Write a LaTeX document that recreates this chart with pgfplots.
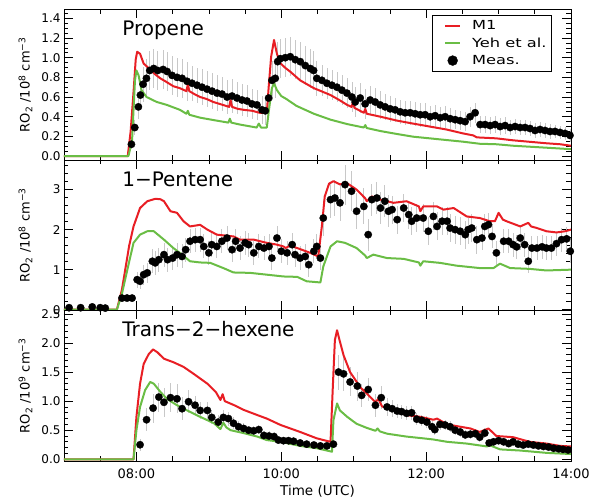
\documentclass[border=0pt]{standalone}
\usepackage{fontspec}
\setmainfont{DejaVu Sans}
\usepackage{pgfplots}
\usepackage{pgfplotstable}
\pgfplotsset{compat=1.18}
\definecolor{mred}{RGB}{232,30,36}
\definecolor{mgreen}{RGB}{106,189,69}
\definecolor{ebar}{RGB}{200,200,200}

\pgfplotstableread{
t v
7.0 0
7.88 0
7.92 0.25
7.96 0.65
7.99 0.98
8.01 1.06
8.05 1.04
8.10 0.94
8.19 0.88
8.26 0.83
8.33 0.79
8.40 0.76
8.51 0.71
8.60 0.69
8.69 0.66
8.71 0.73
8.73 0.66
8.80 0.63
8.88 0.60
8.97 0.58
9.06 0.55
9.15 0.53
9.28 0.50
9.30 0.57
9.32 0.50
9.40 0.48
9.48 0.47
9.60 0.46
9.70 0.44
9.80 0.44
9.83 0.74
9.86 1.01
9.90 1.18
9.94 1.04
9.98 0.95
10.05 0.90
10.12 0.86
10.26 0.77
10.45 0.69
10.55 0.66
10.68 0.62
10.80 0.57
10.91 0.52
10.97 0.50
10.99 0.55
11.01 0.49
11.14 0.44
11.16 0.48
11.18 0.43
11.37 0.40
11.60 0.36
11.82 0.33
12.05 0.30
12.28 0.27
12.51 0.23
12.65 0.21
12.70 0.19
12.97 0.18
13.20 0.16
13.43 0.145
13.66 0.13
13.85 0.12
14.0 0.105
}\redA
\pgfplotstableread{
t v
7.0 0
7.89 0
7.94 0.16
7.96 0.47
7.98 0.77
8.00 0.87
8.03 0.82
8.07 0.67
8.14 0.60
8.28 0.55
8.42 0.52
8.60 0.47
8.69 0.43
8.71 0.46
8.73 0.42
8.88 0.39
9.11 0.36
9.27 0.34
9.29 0.38
9.31 0.34
9.43 0.32
9.66 0.29
9.69 0.33
9.72 0.29
9.80 0.29
9.83 0.47
9.87 0.69
9.90 0.74
9.94 0.67
10.00 0.61
10.07 0.58
10.21 0.51
10.45 0.43
10.68 0.37
10.91 0.325
11.14 0.29
11.16 0.315
11.18 0.285
11.37 0.254
11.60 0.224
11.82 0.197
12.05 0.18
12.28 0.163
12.51 0.146
12.74 0.125
12.97 0.12
13.20 0.105
13.43 0.095
13.66 0.085
14.0 0.07
}\greenA
\pgfplotstableread{
t v e
7.50 -0.045 0.0
7.55 -0.045 0.0
7.60 -0.045 0.0
7.65 -0.045 0.0
7.70 -0.045 0.0
7.75 -0.045 0.0
7.80 -0.045 0.0
7.85 -0.045 0.0
7.931 0.12 0.05
7.977 0.29 0.08
8.027 0.50 0.12
8.055 0.62 0.15
8.092 0.73 0.18
8.138 0.79 0.2
8.184 0.87 0.2
8.239 0.89 0.2
8.294 0.87 0.2
8.368 0.88 0.2
8.423 0.86 0.2
8.492 0.82 0.2
8.561 0.80 0.2
8.630 0.79 0.2
8.699 0.76 0.2
8.768 0.74 0.18
8.837 0.72 0.18
8.906 0.70 0.18
8.975 0.68 0.18
9.044 0.66 0.18
9.113 0.64 0.18
9.182 0.63 0.17
9.251 0.60 0.17
9.320 0.61 0.17
9.388 0.59 0.16
9.457 0.57 0.16
9.526 0.56 0.16
9.595 0.53 0.15
9.664 0.52 0.15
9.733 0.47 0.14
9.779 0.46 0.14
9.825 0.59 0.16
9.871 0.77 0.2
9.917 0.79 0.2
9.950 0.96 0.2
9.986 0.99 0.2
10.055 1.00 0.2
10.124 1.01 0.2
10.193 0.98 0.2
10.262 0.96 0.2
10.331 0.92 0.2
10.400 0.89 0.2
10.446 0.87 0.2
10.491 0.79 0.18
10.561 0.77 0.16
10.630 0.74 0.16
10.699 0.72 0.15
10.768 0.70 0.15
10.837 0.67 0.15
10.906 0.64 0.15
10.975 0.60 0.15
11.021 0.55 0.15
11.090 0.59 0.15
11.158 0.53 0.15
11.227 0.57 0.14
11.296 0.55 0.14
11.365 0.52 0.14
11.434 0.50 0.13
11.503 0.48 0.13
11.572 0.47 0.12
11.641 0.45 0.12
11.710 0.44 0.12
11.779 0.44 0.12
11.848 0.43 0.12
11.917 0.42 0.12
11.986 0.42 0.12
12.055 0.40 0.11
12.124 0.41 0.11
12.193 0.39 0.11
12.262 0.40 0.11
12.331 0.38 0.11
12.400 0.37 0.1
12.469 0.36 0.1
12.538 0.35 0.1
12.607 0.40 0.1
12.676 0.44 0.1
12.745 0.32 0.09
12.814 0.32 0.09
12.883 0.31 0.09
12.952 0.32 0.09
13.021 0.30 0.09
13.090 0.31 0.09
13.159 0.29 0.08
13.228 0.30 0.08
13.297 0.29 0.08
13.366 0.29 0.08
13.434 0.28 0.08
13.503 0.26 0.08
13.572 0.27 0.08
13.641 0.26 0.075
13.710 0.25 0.075
13.779 0.25 0.07
13.848 0.24 0.07
13.917 0.23 0.07
13.986 0.21 0.07
}\measA

\pgfplotstableread{
t v
7.0 0
7.73 0
7.80 0.5
7.90 1.6
7.96 2.08
8.05 2.54
8.15 2.71
8.26 2.77
8.33 2.76
8.38 2.71
8.47 2.46
8.56 2.42
8.65 2.21
8.74 2.08
8.88 2.12
8.98 2.00
9.11 1.875
9.34 1.83
9.43 1.75
9.62 1.75
9.80 1.67
9.94 1.625
10.03 1.58
10.06 1.54
10.12 1.60
10.22 1.54
10.40 1.42
10.51 1.33
10.56 2.08
10.60 2.83
10.66 3.15
10.72 3.21
10.81 3.13
10.90 3.17
11.04 3.00
11.16 2.78
11.18 2.71
11.25 2.83
11.37 2.75
11.55 2.67
11.73 2.71
11.90 2.58
11.92 2.46
11.96 2.58
12.15 2.58
12.24 2.50
12.38 2.54
12.56 2.33
12.74 2.29
12.88 2.21
12.95 2.21
13.00 2.42
13.06 2.25
13.11 2.21
13.30 2.08
13.41 2.17
13.45 2.08
13.53 2.04
13.66 1.96
13.80 1.93
13.92 1.96
14.0 2.0
}\redB
\pgfplotstableread{
t v
7.0 0
7.73 0
7.80 0.4
7.90 1.2
7.96 1.67
8.05 1.875
8.15 1.96
8.24 1.96
8.38 1.75
8.51 1.54
8.63 1.375
8.74 1.21
8.88 1.18
9.02 1.17
9.20 1.04
9.34 0.93
9.57 0.92
9.80 0.875
10.03 0.83
10.22 0.82
10.35 0.71
10.54 0.68
10.58 1.08
10.68 1.58
10.77 1.71
10.88 1.67
11.04 1.54
11.16 1.35
11.18 1.29
11.27 1.375
11.46 1.29
11.69 1.27
11.90 1.18
11.92 1.10
11.96 1.21
12.19 1.17
12.42 1.10
12.74 1.04
12.93 1.04
13.02 1.15
13.16 1.04
13.43 1.02
13.66 0.98
14.0 1.0
}\greenB
\pgfplotstableread{
t v e
7.07 0.05 0.0
7.23 0.05 0.0
7.39 0.07 0.0
7.50 0.05 0.0
7.57 0.04 0.0
7.80 0.29 0.1
7.87 0.29 0.1
7.94 0.29 0.1
8.01 0.75 0.2
8.05 0.71 0.2
8.10 0.875 0.25
8.15 0.92 0.25
8.22 1.21 0.3
8.26 1.17 0.3
8.31 1.25 0.3
8.38 1.375 0.3
8.43 1.25 0.3
8.50 1.29 0.3
8.56 1.375 0.3
8.63 1.33 0.3
8.68 1.50 0.3
8.74 1.71 0.3
8.81 1.75 0.3
8.88 1.75 0.3
8.93 1.58 0.3
9.00 1.42 0.3
9.04 1.625 0.3
9.11 1.58 0.3
9.18 1.71 0.3
9.25 1.79 0.3
9.32 1.50 0.3
9.37 1.71 0.3
9.43 1.54 0.3
9.50 1.67 0.3
9.55 1.625 0.3
9.62 1.42 0.3
9.69 1.58 0.3
9.76 1.54 0.3
9.83 1.58 0.3
9.87 1.29 0.3
9.94 1.79 0.3
10.00 1.46 0.3
10.08 1.42 0.3
10.15 1.625 0.3
10.19 1.375 0.3
10.26 1.29 0.3
10.33 1.33 0.3
10.38 1.125 0.3
10.45 1.46 0.3
10.49 1.58 0.3
10.54 1.29 0.3
10.58 2.29 0.45
10.68 2.75 0.45
10.74 2.79 0.45
10.81 2.67 0.45
10.88 3.125 0.5
10.97 2.96 0.5
11.04 2.46 0.45
11.14 2.58 0.45
11.20 1.875 0.4
11.25 2.75 0.4
11.32 2.79 0.4
11.37 2.54 0.4
11.43 2.71 0.4
11.48 2.46 0.4
11.53 2.50 0.35
11.60 2.25 0.35
11.69 2.54 0.35
11.76 2.375 0.35
11.80 2.21 0.35
11.87 2.29 0.35
11.96 2.29 0.35
12.03 1.96 0.35
12.10 2.33 0.35
12.15 2.08 0.35
12.22 2.21 0.35
12.29 2.21 0.35
12.33 2.04 0.35
12.40 2.00 0.35
12.47 1.96 0.35
12.54 1.875 0.35
12.58 2.00 0.35
12.63 2.04 0.35
12.70 1.75 0.35
12.77 1.79 0.3
12.81 2.08 0.3
12.86 2.125 0.3
12.91 1.83 0.3
12.97 1.42 0.3
13.07 1.71 0.3
13.14 1.71 0.3
13.20 1.625 0.3
13.25 1.57 0.3
13.30 1.79 0.3
13.36 1.625 0.3
13.41 1.21 0.3
13.46 1.54 0.3
13.53 1.54 0.3
13.60 1.57 0.3
13.66 1.54 0.3
13.73 1.54 0.3
13.80 1.65 0.3
13.87 1.75 0.3
13.94 1.77 0.3
13.99 1.46 0.3
}\measB

\pgfplotstableread{
t v
7.0 0
7.96 0
8.00 0.73
8.05 1.30
8.10 1.64
8.17 1.81
8.23 1.89
8.29 1.84
8.38 1.73
8.51 1.67
8.65 1.59
8.79 1.47
8.98 1.30
9.10 1.15
9.16 1.02
9.19 1.12
9.22 1.00
9.35 0.93
9.48 0.85
9.67 0.76
9.80 0.70
9.99 0.59
10.26 0.47
10.49 0.36
10.68 0.30
10.71 1.20
10.74 2.05
10.77 2.22
10.80 2.07
10.86 1.79
10.95 1.50
11.09 1.24
11.23 1.07
11.30 0.98
11.34 1.04
11.39 0.91
11.55 0.84
11.73 0.76
11.92 0.73
12.10 0.68
12.15 0.70
12.29 0.60
12.47 0.56
12.61 0.53
12.74 0.47
12.86 0.53
12.97 0.40
13.20 0.38
13.43 0.30
13.66 0.27
13.85 0.23
14.0 0.22
}\redC
\pgfplotstableread{
t v
7.0 0
7.96 0
8.00 0.50
8.05 0.90
8.12 1.19
8.19 1.33
8.24 1.30
8.33 1.16
8.42 1.04
8.56 0.93
8.70 0.84
8.88 0.73
9.07 0.62
9.16 0.52
9.20 0.63
9.24 0.55
9.30 0.50
9.48 0.45
9.67 0.39
9.80 0.33
9.99 0.30
10.26 0.23
10.49 0.19
10.70 0.13
10.72 0.67
10.77 0.96
10.81 0.84
10.91 0.73
11.04 0.61
11.18 0.54
11.30 0.49
11.33 0.53
11.36 0.48
11.46 0.44
11.73 0.39
11.96 0.36
12.10 0.34
12.29 0.30
12.56 0.27
12.84 0.22
12.88 0.24
13.02 0.17
13.30 0.15
13.66 0.11
14.0 0.09
}\greenC
\pgfplotstableread{
t v e
7.07 -0.05 0.0
7.15 -0.05 0.0
7.23 -0.05 0.0
7.32 -0.05 0.0
7.40 -0.05 0.0
7.48 -0.05 0.0
7.57 -0.05 0.0
7.65 -0.05 0.0
7.73 -0.05 0.0
7.82 -0.05 0.0
7.90 -0.05 0.0
8.05 0.25 0.1
8.14 0.68 0.2
8.23 0.88 0.25
8.31 1.07 0.25
8.38 0.98 0.25
8.47 1.06 0.25
8.56 1.04 0.25
8.63 0.87 0.2
8.72 0.99 0.2
8.81 0.93 0.15
8.88 0.84 0.15
8.98 0.84 0.15
9.04 0.72 0.12
9.13 0.64 0.12
9.20 0.72 0.12
9.27 0.70 0.12
9.34 0.62 0.1
9.41 0.56 0.1
9.48 0.53 0.1
9.55 0.50 0.08
9.62 0.49 0.08
9.69 0.51 0.08
9.76 0.41 0.08
9.83 0.40 0.08
9.90 0.39 0.08
9.96 0.33 0.07
10.03 0.32 0.07
10.10 0.32 0.07
10.17 0.31 0.07
10.26 0.28 0.07
10.35 0.26 0.06
10.45 0.245 0.06
10.54 0.23 0.06
10.63 0.23 0.06
10.72 0.26 0.06
10.79 1.50 0.3
10.86 1.47 0.3
10.95 1.33 0.25
11.05 1.26 0.25
11.11 1.10 0.2
11.20 1.20 0.2
11.30 0.93 0.2
11.38 1.06 0.2
11.46 0.90 0.15
11.53 0.87 0.15
11.60 0.83 0.12
11.66 0.82 0.12
11.73 0.79 0.12
11.80 0.80 0.12
11.87 0.69 0.1
11.94 0.67 0.1
12.01 0.64 0.1
12.08 0.56 0.1
12.12 0.51 0.1
12.19 0.60 0.1
12.26 0.59 0.09
12.33 0.56 0.09
12.40 0.50 0.09
12.47 0.47 0.08
12.54 0.42 0.08
12.61 0.43 0.08
12.68 0.44 0.08
12.74 0.38 0.08
12.81 0.45 0.08
12.87 0.28 0.07
12.93 0.30 0.07
13.00 0.32 0.07
13.07 0.30 0.07
13.14 0.27 0.06
13.20 0.30 0.06
13.27 0.26 0.06
13.34 0.245 0.06
13.41 0.26 0.06
13.48 0.245 0.06
13.55 0.23 0.05
13.62 0.22 0.05
13.69 0.21 0.05
13.76 0.19 0.05
13.83 0.18 0.05
13.89 0.17 0.05
13.96 0.16 0.05
}\measC

\pgfplotsset{
  panel/.style={
    scale only axis, width=507pt, height=150.5pt,
    xmin=7, xmax=14,
    xtick={8,10,12,14}, minor xtick={7,7.5,...,14},
    xticklabels={},
    axis line style={line width=0.8pt},
    every tick/.style={black, line width=0.7pt},
    major tick length=9pt, minor tick length=4.5pt,
    tick align=inside,
    /pgf/number format/assume math mode=true,
    yticklabel style={font=\fontsize{12}{12}\selectfont},
    xticklabel style={font=\fontsize{13}{13}\selectfont, yshift=-4pt},
    ylabel style={at={(axis description cs:-0.076,0.5)}, anchor=center, font=\fontsize{13}{13}\selectfont},
    xlabel style={at={(axis description cs:0.5,0)}, anchor=center, yshift=-30.7pt, font=\fontsize{13.5}{13.5}\selectfont},
  },
  model/.style={line width=2pt, no markers, line join=round,
    legend image code/.code={\draw[##1, line width=2pt] (0pt,0pt) -- (15pt,0pt); \path[draw=none,fill=none] (-10pt,0pt) (25pt,0pt);}},
  errs/.style={forget plot, only marks, mark=none,
    error bars/y dir=both, error bars/y explicit, error bars/error mark=none,
    error bars/error bar style={ebar, line width=0.8pt}},
  meas/.style={only marks, mark=*, mark size=3.7pt, black, mark options={fill=black, draw=black, line width=0.3pt},
    legend image code/.code={\draw[##1, only marks, mark size=5pt] plot coordinates {(7.5pt,0pt)}; \path[draw=none,fill=none] (-10pt,0pt) (25pt,0pt);}},
}

\begin{document}
\begin{tikzpicture}
\path[use as bounding box] (-64pt,-39pt) rectangle (525pt,461pt);

% Panel 1
\begin{axis}[panel, at={(0pt,301pt)}, anchor=south west,
  ymin=-0.04, ymax=1.49,
  ytick={0,0.2,0.4,0.6,0.8,1.0,1.2,1.4}, minor ytick={0,0.05,...,1.47},
  yticklabel style={/pgf/number format/.cd, fixed, fixed zerofill, precision=1},
  ylabel={RO\textsubscript{2} /10\textsuperscript{8} cm\textsuperscript{−3}},
  legend style={at={(0.9625,0.965)}, anchor=north east,
    draw=black, line width=0.8pt, font=\fontsize{12.5}{13}\selectfont\addfontfeatures{FakeStretch=1.3},
    inner xsep=3pt, inner ysep=3.5pt, row sep=2.5pt},
  legend cell align=left]
\addplot[errs] table[x=t, y=v, y error=e]{\measA};
\addplot[model, mred] table[x=t, y=v]{\redA};
\addplot[model, mgreen] table[x=t, y=v]{\greenA};
\addplot[meas] table[x=t, y=v]{\measA};
\legend{M1, Yeh et al., Meas.}
\node[anchor=base west, font=\fontsize{20}{20}\selectfont] at (axis description cs:0.108,0.83) {Propene};
\end{axis}

% Panel 2
\begin{axis}[panel, at={(0pt,150.5pt)}, anchor=south west,
  ymin=-0.02, ymax=3.74,
  ytick={0,1,2,3}, minor ytick={0,0.2,...,3.7},
  ylabel={RO\textsubscript{2} /10\textsuperscript{8} cm\textsuperscript{−3}}]
\addplot[errs] table[x=t, y=v, y error=e]{\measB};
\addplot[model, mred] table[x=t, y=v]{\redB};
\addplot[model, mgreen] table[x=t, y=v]{\greenB};
\addplot[meas] table[x=t, y=v]{\measB};
\node[anchor=base west, font=\fontsize{20}{20}\selectfont] at (axis description cs:0.108,0.827) {1−Pentene};
\end{axis}

% Panel 3
\begin{axis}[panel, at={(0pt,0pt)}, anchor=south west,
  ymin=-0.03, ymax=2.56,
  ytick={0,0.5,1,1.5,2,2.5}, minor ytick={0,0.1,...,2.55},
  yticklabel style={/pgf/number format/.cd, fixed, fixed zerofill, precision=1},
  xticklabels={08:00,10:00,12:00,14:00},
  xlabel={Time (UTC)},
  ylabel={RO\textsubscript{2} /10\textsuperscript{9} cm\textsuperscript{−3}}]
\addplot[errs] table[x=t, y=v, y error=e]{\measC};
\addplot[model, mred] table[x=t, y=v]{\redC};
\addplot[model, mgreen] table[x=t, y=v]{\greenC};
\addplot[meas] table[x=t, y=v]{\measC};
\node[anchor=base west, font=\fontsize{20}{20}\selectfont] at (axis description cs:0.108,0.827) {Trans−2−hexene};
\end{axis}
\end{tikzpicture}
\end{document}
